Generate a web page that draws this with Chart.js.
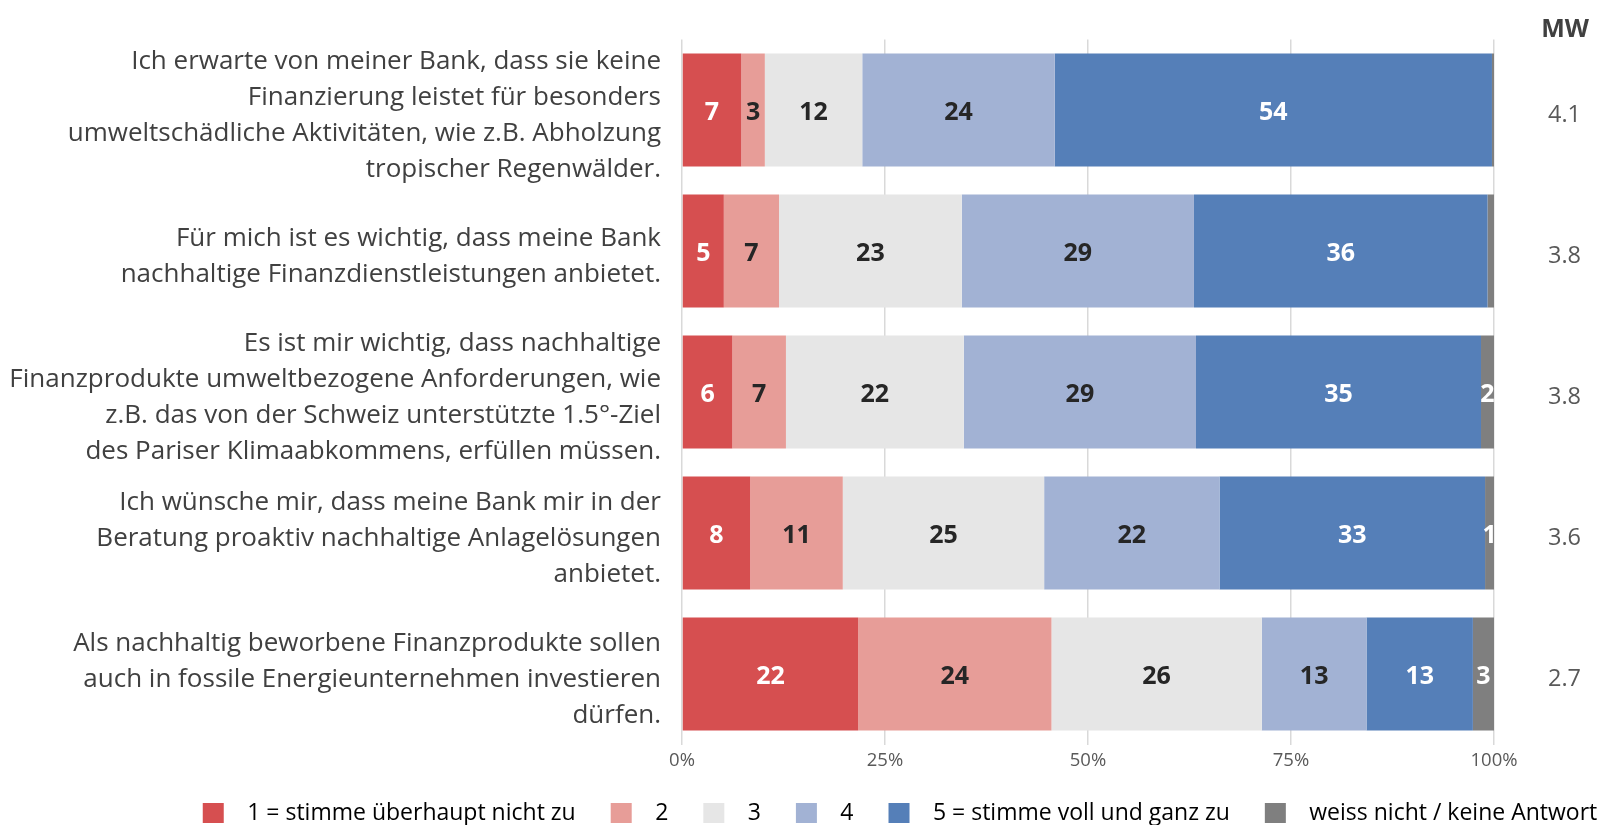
<!DOCTYPE html>
<html>
<head>
<meta charset="utf-8">
<script src="https://cdn.jsdelivr.net/npm/chart.js@4.4.1/dist/chart.umd.min.js"></script>
<style>
    html, body { margin: 0; padding: 0; background: #ffffff; }
    canvas { display: block; }
</style>
</head>
<body>
<canvas id="chart" width="1600" height="825"></canvas>
<script>
    'use strict';

    // category labels (one array per line break)
    var categories = [
        ['Ich erwarte von meiner Bank, dass sie keine', 'Finanzierung leistet für besonders', 'umweltschädliche Aktivitäten, wie z.B. Abholzung', 'tropischer Regenwälder.'],
        ['Für mich ist es wichtig, dass meine Bank', 'nachhaltige Finanzdienstleistungen anbietet.'],
        ['Es ist mir wichtig, dass nachhaltige', 'Finanzprodukte umweltbezogene Anforderungen, wie', 'z.B. das von der Schweiz unterstützte 1.5°-Ziel', 'des Pariser Klimaabkommens, erfüllen müssen.'],
        ['Ich wünsche mir, dass meine Bank mir in der', 'Beratung proaktiv nachhaltige Anlagelösungen', 'anbietet.'],
        ['Als nachhaltig beworbene Finanzprodukte sollen', 'auch in fossile Energieunternehmen investieren', 'dürfen.']
    ];

    // shares in percent, per answer
    var stimme1 = [7.3, 5.15, 6.2, 8.4, 21.7];
    var stimme2 = [2.9, 6.8, 6.6, 11.4, 23.8];
    var stimme3 = [12.0, 22.5, 21.9, 24.8, 25.9];
    var stimme4 = [23.7, 28.6, 28.6, 21.6, 12.9];
    var stimme5 = [53.85, 36.15, 35.1, 32.7, 13.1];
    var keineAntwort = [0.25, 0.8, 1.6, 1.1, 2.6];

    // mean values (MW)
    var mittelwerte = ['4.1', '3.8', '3.8', '3.6', '2.7'];

    var xTicks = [0, 25, 50, 75, 100];

    var seriesNames = ['1 = stimme überhaupt nicht zu', '2', '3', '4', '5 = stimme voll und ganz zu', 'weiss nicht / keine Antwort'];

    var colors = {
        s1: '#d64f50',
        s2: '#e79d98',
        s3: '#e6e6e6',
        s4: '#a2b2d4',
        s5: '#557fb8',
        na: '#7f7f7f',
        grid: '#d9d9d9',
        text: '#404040',
        tick: '#595959',
        dark: '#262626'
    };

    var FONT = "'Segoe UI', 'Open Sans', sans-serif";

    var segmentLabels = {
        id: 'segmentLabels',
        afterDatasetsDraw: function(chart) {
            var ctx = chart.ctx;
            ctx.save();
            ctx.font = 'bold 25px ' + FONT;
            ctx.textAlign = 'center';
            ctx.textBaseline = 'middle';
            chart.data.datasets.forEach(function(ds, i) {
                var meta = chart.getDatasetMeta(i);
                meta.data.forEach(function(bar, j) {
                    var v = ds.data[j];
                    if (v < 1) return;
                    var c = bar.getCenterPoint();
                    ctx.fillStyle = ds.labelColor;
                    ctx.fillText(String(Math.round(v)), c.x, c.y + 3);
                });
            });
            ctx.restore();
        }
    };

    var mwHeader = {
        id: 'mwHeader',
        afterDraw: function(chart) {
            var ctx = chart.ctx;
            ctx.save();
            ctx.font = 'bold 25px ' + FONT;
            ctx.fillStyle = colors.text;
            ctx.textAlign = 'center';
            ctx.textBaseline = 'middle';
            ctx.fillText('MW', 1565, 30);
            ctx.restore();
        }
    };

    // the legend sits a bit right of the canvas centre
    var legendShift = {
        id: 'legendShift',
        afterLayout: function(chart) {
            chart.legend.left += 100;
            chart.legend.right += 100;
        }
    };

    function makeSet(i, data, color, labelColor) {
        return {
            label: seriesNames[i],
            data: data,
            backgroundColor: color,
            borderWidth: 0,
            labelColor: labelColor,
            barPercentage: 0.8,
            categoryPercentage: 1.0
        };
    }

    new Chart(document.getElementById('chart').getContext('2d'), {
        type: 'bar',
        data: {
            labels: categories,
            datasets: [
                makeSet(0, stimme1, colors.s1, '#ffffff'),
                makeSet(1, stimme2, colors.s2, colors.dark),
                makeSet(2, stimme3, colors.s3, colors.dark),
                makeSet(3, stimme4, colors.s4, colors.dark),
                makeSet(4, stimme5, colors.s5, '#ffffff'),
                makeSet(5, keineAntwort, colors.na, '#ffffff')
            ]
        },
        plugins: [segmentLabels, mwHeader, legendShift],
        options: {
            indexAxis: 'y',
            responsive: false,
            animation: false,
            layout: {
                padding: { left: 0, top: 39.5, right: 0, bottom: -9.5 }
            },
            plugins: {
                tooltip: { enabled: false },
                legend: {
                    position: 'bottom',
                    labels: {
                        boxWidth: 21,
                        boxHeight: 20,
                        padding: 35,
                        color: colors.text,
                        font: { family: FONT, size: 23 },
                        generateLabels: function(chart) {
                            return chart.data.datasets.map(function(ds, i) {
                                return {
                                    text: '  ' + ds.label,
                                    fillStyle: ds.backgroundColor,
                                    strokeStyle: ds.backgroundColor,
                                    lineWidth: 0,
                                    hidden: false,
                                    datasetIndex: i
                                };
                            });
                        }
                    }
                }
            },
            scales: {
                x: {
                    stacked: true,
                    min: 0,
                    max: 100,
                    afterBuildTicks: function(scale) {
                        scale.ticks = xTicks.map(function(v) { return { value: v }; });
                    },
                    afterFit: function(scale) {
                        scale.height = 22;
                        scale.paddingLeft = 0;
                        scale.paddingRight = 0;
                    },
                    grid: { color: colors.grid, lineWidth: 1.5, drawTicks: false },
                    border: { display: false },
                    ticks: {
                        padding: 5.5,
                        color: colors.tick,
                        font: { family: FONT, size: 18.5 },
                        callback: function(v) { return v + '%'; }
                    }
                },
                y: {
                    stacked: true,
                    afterFit: function(scale) {
                        scale.width = 682;
                        scale.paddingTop = 0;
                        scale.paddingBottom = 0;
                    },
                    grid: { display: false, drawTicks: false },
                    border: { display: false },
                    ticks: {
                        autoSkip: false,
                        padding: 21,
                        labelOffset: 6,
                        color: colors.text,
                        font: { family: FONT, size: 26, lineHeight: '36px' }
                    }
                },
                y2: {
                    type: 'category',
                    labels: mittelwerte,
                    position: 'right',
                    offset: true,
                    afterFit: function(scale) {
                        scale.width = 106;
                        scale.paddingTop = 0;
                        scale.paddingBottom = 0;
                    },
                    grid: { display: false, drawTicks: false },
                    border: { display: false },
                    ticks: {
                        autoSkip: false,
                        padding: 54,
                        labelOffset: 5,
                        color: colors.tick,
                        font: { family: FONT, size: 23.5 }
                    }
                }
            }
        }
    });
</script>
</body>
</html>
